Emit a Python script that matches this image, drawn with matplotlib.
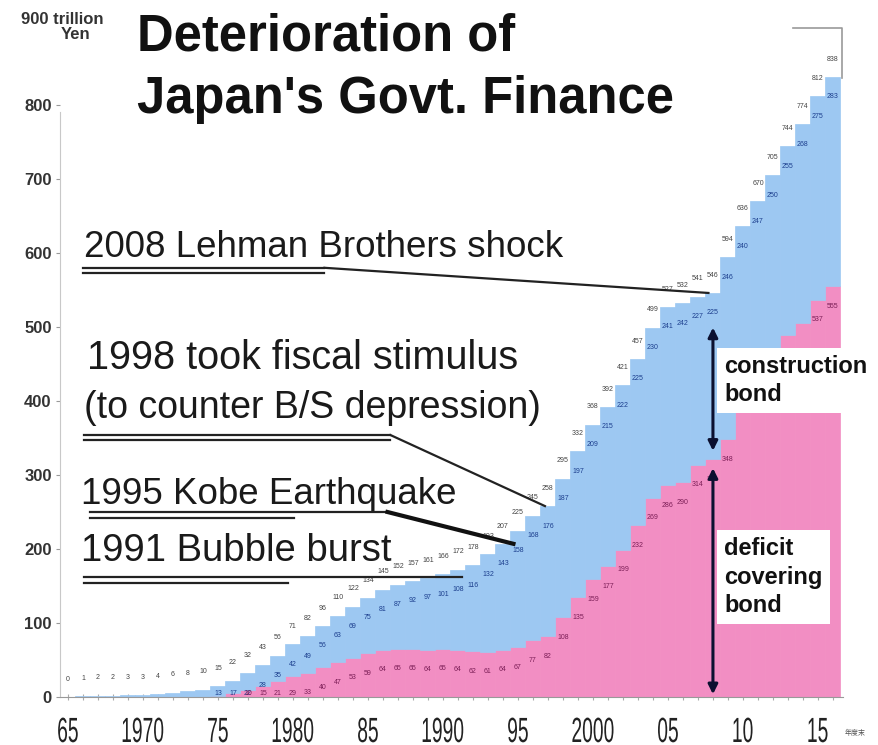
import numpy as np
import matplotlib
matplotlib.use("Agg")
import matplotlib.pyplot as plt
import matplotlib.transforms as mtransforms
from matplotlib.textpath import TextPath
from matplotlib.patches import PathPatch
from matplotlib.font_manager import FontProperties
from matplotlib.lines import Line2D

plt.rcParams['font.family'] = ['Liberation Sans', 'DejaVu Sans']

# JGB outstanding at fiscal year end, trillion yen
years = np.arange(1965, 2017)
construction = [0.2, 1, 2, 2, 3, 3, 4, 6, 8, 10,
                13, 17, 22, 28, 35, 42, 49, 56, 63, 69,
                75, 81, 87, 92, 97, 101, 108, 116, 132, 143,
                158, 168, 176, 187, 197, 209, 215, 222, 225, 230,
                241, 242, 227, 225, 246, 240, 247, 250, 255, 268,
                275, 283]
deficit = [0, 0, 0, 0, 0, 0, 0, 0, 0, 0,
           2, 5, 10, 15, 21, 29, 33, 40, 47, 53,
           59, 64, 65, 65, 64, 65, 64, 62, 61, 64,
           67, 77, 82, 108, 135, 159, 177, 199, 232, 269,
           286, 290, 314, 321, 348, 396, 423, 455, 489, 506,
           537, 555]
year_ticks = [1965, 1970, 1975, 1980, 1985, 1990, 1995, 2000, 2005, 2010, 2015]
year_labels = ['65', '1970', '75', '1980', '85', '1990', '95', '2000', '05', '10', '15']

construction = np.array(construction, dtype=float)
deficit = np.array(deficit, dtype=float)
total = construction + deficit

BLUE = '#9dc8f2'
PINK = '#f28ec3'
W, H = 879, 745


def fx(px):
    return px / W


def fy(py):
    return 1 - py / H


fig = plt.figure(figsize=(W / 100, H / 100), dpi=100)
ax = fig.add_axes([fx(60), 48 / H, 783 / W, 666 / H])
ax.set_xlim(1964.47, 2016.67)
ax.set_ylim(0, 900)

ax.bar(years, deficit, width=1.0, color=PINK, edgecolor=PINK, lw=0.5, zorder=2)
ax.bar(years, construction, bottom=deficit, width=1.0, color=BLUE,
       edgecolor=BLUE, lw=0.5, zorder=2)

# value labels: totals above, construction / deficit inside each band
for i, yr in enumerate(years):
    ax.text(yr, total[i] + 24, f'{total[i]:.0f}', ha='center', va='center',
            fontsize=5, color='#444', zorder=3)
    if yr >= 1975:
        ax.text(yr, max(total[i] - 27, 5), f'{construction[i]:.0f}', ha='center',
                va='center', fontsize=5, color='#1d3f8e', zorder=3)
    y_def = max(deficit[i] - 27, 5)
    # the label box over the right side hides these
    hidden = yr > 2008 and 360 < y_def < 480
    if deficit[i] >= 10 and not hidden:
        ax.text(yr, y_def, f'{deficit[i]:.0f}', ha='center',
                va='center', fontsize=5, color='#7c1f57', zorder=3)

# axes styling
for side in ['top', 'right']:
    ax.spines[side].set_visible(False)
ax.spines['left'].set_color('#c8c8c8')
ax.spines['left'].set_bounds(0, 790)
ax.spines['bottom'].set_color('#999999')
ax.set_yticks(range(0, 900, 100))
ax.tick_params(axis='y', length=3, color='#999', labelsize=12, labelcolor='#333', pad=3)
for lab in ax.get_yticklabels():
    lab.set_fontweight('bold')
ax.set_xticks(years)
ax.set_xticklabels([])
ax.tick_params(axis='x', direction='inout', length=5, color='#aaa')

ax.text(fx(16) - fx(60), 915, '900 trillion', transform=ax.get_yaxis_transform(),
        ha='left', va='center', fontsize=12, fontweight='bold', color='#333')
ax.text(fx(77) - fx(60), 895, 'Yen', transform=ax.get_yaxis_transform(),
        ha='center', va='center', fontsize=12, fontweight='bold', color='#333')

# condensed year labels drawn as squeezed text paths
fp = FontProperties(family='Liberation Sans')
fig.canvas.draw()
for yr, s in zip(year_ticks, year_labels):
    tp = TextPath((0, 0), s, size=35, prop=fp)
    bb = tp.get_extents()
    xpix = ax.transData.transform((yr, 0))[0]
    tr = (mtransforms.Affine2D().translate(-(bb.x0 + bb.x1) / 2, 0)
          .scale(0.55, 1.0).translate(xpix, 3))
    fig.add_artist(PathPatch(tp, transform=tr, color='#222', lw=0))

fig.text(fx(845), fy(733), '年度末', fontsize=5, color='#555',
         family=['Noto Sans CJK JP', 'DejaVu Sans'], va='center')

# title
fig.text(fx(137), fy(37), 'Deterioration of', fontsize=36.5, fontweight='bold',
         color='#111', va='center')
fig.text(fx(137), fy(100), "Japan's Govt. Finance", fontsize=36.5, fontweight='bold',
         color='#111', va='center')

# event annotations with double underlines and leader lines
ann = dict(color='#1a1a1a', va='center', ha='left', zorder=5)
ax.text(1966.1, 608, '2008 Lehman Brothers shock', fontsize=26.5, **ann)
ax.plot([1966.0, 1982.1], [580, 580], color='#222', lw=1.6, zorder=5)
ax.plot([1966.0, 1982.1], [573, 573], color='#222', lw=1.6, zorder=5)
ax.plot([1982.1, 2007.7], [580, total[2008 - 1965]], color='#222', lw=1.6, zorder=5)

ax.text(1966.3, 458, '1998 took fiscal stimulus', fontsize=28.5, **ann)
ax.text(1966.1, 390, '(to counter B/S depression)', fontsize=27, **ann)
ax.plot([1966.1, 1986.5], [354, 354], color='#222', lw=1.6, zorder=5)
ax.plot([1966.1, 1986.5], [347, 347], color='#222', lw=1.6, zorder=5)
ax.plot([1986.5, 1996.8], [354, total[1997 - 1965]], color='#222', lw=1.6, zorder=5)

ax.text(1965.9, 274, '1995 Kobe Earthquake', fontsize=26.5, **ann)
ax.plot([1966.5, 1986.3], [250, 250], color='#222', lw=1.6, zorder=5)
ax.plot([1966.5, 1980.1], [242, 242], color='#222', lw=1.6, zorder=5)
ax.plot([1986.3, 1994.7], [250, total[1994 - 1965]], color='#111', lw=3, zorder=5)

ax.text(1965.9, 197, '1991 Bubble burst', fontsize=27.5, **ann)
ax.plot([1966.1, 1991.3], [162, 162], color='#222', lw=1.6, zorder=5)
ax.plot([1966.1, 1979.7], [154, 154], color='#222', lw=1.6, zorder=5)

# bond breakdown arrows at FY2008
i08 = 2008 - 1965
arrow = dict(arrowstyle='<|-|>', color='#0b1030', lw=2.2, mutation_scale=14)
ax.annotate('', xy=(2008, total[i08] - 43), xytext=(2008, deficit[i08] + 8),
            arrowprops=arrow, zorder=6)
ax.annotate('', xy=(2008, deficit[i08] - 8), xytext=(2008, 0),
            arrowprops=arrow, zorder=6)

box = dict(facecolor='white', edgecolor='none', boxstyle='square,pad=0.3')
ax.text(2008.75, 428, 'construction\nbond', fontsize=17, fontweight='bold',
        color='#111', ha='left', va='center', linespacing=1.25, bbox=box, zorder=7)
ax.text(2008.75, 162, 'deficit\ncovering\nbond', fontsize=17, fontweight='bold',
        color='#111', ha='left', va='center', linespacing=1.3, bbox=box, zorder=7)

fig.add_artist(Line2D([fx(793), fx(842), fx(842)], [fy(28), fy(28), fy(78)],
                      color='#999', lw=1.2))

fig.savefig('out.png', dpi=100)
